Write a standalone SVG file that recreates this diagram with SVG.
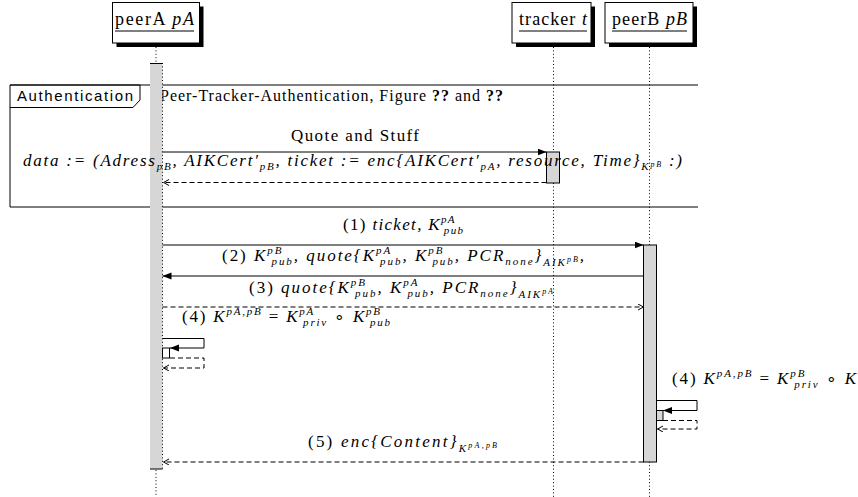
<svg xmlns="http://www.w3.org/2000/svg" width="858" height="497" viewBox="0 0 858 497">
<style>
.box{fill:#fff;stroke:#000;stroke-width:1}
.shadow{fill:#000}
.life{stroke:#000;stroke-width:1;stroke-dasharray:1 2.4;fill:none}
.act{fill:#d6d6d6;stroke:#000;stroke-width:1}
.solid{stroke:#000;stroke-width:1;fill:none}
.dash{stroke:#000;stroke-width:1;fill:none;stroke-dasharray:5 3}
.t{font-family:"Liberation Serif",serif;font-size:18px;fill:#000}
.m{font-family:"Liberation Serif",serif;font-style:italic;font-size:17px;fill:#000}
.u{font-style:normal}
.s{font-size:11px}
.ss{font-size:8px}
.sans{font-family:"Liberation Sans",sans-serif;font-size:15px;fill:#000}
</style>
<defs>
<marker id="af" markerUnits="userSpaceOnUse" markerWidth="10" markerHeight="8" refX="9" refY="3.5" orient="auto"><path d="M0,0 L9,3.5 L0,7 z" fill="#000"/></marker>
<marker id="ao" markerUnits="userSpaceOnUse" markerWidth="7" markerHeight="8" refX="5.5" refY="3" orient="auto"><path d="M0,0 L5.5,3 L0,6" fill="none" stroke="#000" stroke-width="1"/></marker>
</defs>

<g id="frame-auth">
<path class="solid" d="M698,85 H10 V207 H698"/>
<path class="solid" d="M10,85 H140 V100 L133,107.5 H10"/>
<text class="sans" x="17" y="101" textLength="116" lengthAdjust="spacing">Authentication</text>
<text class="t" x="160" y="101" style="font-size:16px" textLength="343" lengthAdjust="spacing">Peer-Tracker-Authentication, Figure <tspan font-weight="bold">??</tspan> and <tspan font-weight="bold">??</tspan></text>
</g>

<g id="node-peerA">
<line class="life" x1="156" y1="47" x2="156" y2="63"/>
<line class="life" x1="156" y1="470" x2="156" y2="497"/>
<rect class="shadow" x="116.5" y="6.5" width="87" height="40.5"/>
<rect class="box" x="112.5" y="2.5" width="87" height="40.5"/>
<text class="t" x="115" y="25" textLength="79" lengthAdjust="spacing">peerA <tspan font-style="italic">pA</tspan></text>
<line class="solid" x1="115" y1="31" x2="194" y2="31"/>
<rect x="150" y="63" width="12.5" height="406" fill="#d6d6d6"/>
<line class="solid" x1="150" y1="63.5" x2="162.5" y2="63.5"/>
<line class="solid" x1="150" y1="469" x2="162.5" y2="469"/>
<line class="life" x1="162.5" y1="63" x2="162.5" y2="469"/>
<rect x="162.5" y="348" width="7" height="10" fill="#fff" stroke="#000"/>
</g>

<g id="node-tracker">
<line class="life" x1="553.5" y1="47" x2="553.5" y2="497"/>
<rect class="shadow" x="516" y="6.5" width="79" height="40.5"/>
<rect class="box" x="512" y="2.5" width="79" height="40.5"/>
<text class="t" x="519" y="25" textLength="68" lengthAdjust="spacing">tracker <tspan font-style="italic">t</tspan></text>
<line class="solid" x1="519" y1="31" x2="587" y2="31"/>
<rect class="act" x="546.5" y="152" width="13" height="31"/>
</g>

<g id="node-peerB">
<line class="life" x1="649.5" y1="47" x2="649.5" y2="497"/>
<rect class="shadow" x="609" y="6.5" width="88" height="40.5"/>
<rect class="box" x="605" y="2.5" width="88" height="40.5"/>
<text class="t" x="612" y="25" textLength="75" lengthAdjust="spacing">peerB <tspan font-style="italic">pB</tspan></text>
<line class="solid" x1="612" y1="31" x2="687" y2="31"/>
<rect class="act" x="643.5" y="245" width="13" height="217"/>
<rect class="act" x="656.5" y="410.5" width="6.5" height="10"/>
</g>

<g id="connectors">
<line class="solid" x1="162.5" y1="152" x2="546.5" y2="152" marker-end="url(#af)"/>
<text class="t" x="291" y="141" style="font-size:17px" textLength="128" lengthAdjust="spacing">Quote and Stuff</text>
<line class="dash" x1="546.5" y1="182.5" x2="163.5" y2="182.5" marker-end="url(#ao)"/>
<text class="m" x="23" y="166" textLength="659" lengthAdjust="spacing">data := (Adress<tspan class="s" dy="4">pB</tspan><tspan dy="-4">, AIKCert′</tspan><tspan class="s" dy="4">pB</tspan><tspan dy="-4">, ticket := enc{AIKCert′</tspan><tspan class="s" dy="4">pA</tspan><tspan dy="-4">, resource, Time}</tspan><tspan class="s" dy="4">K</tspan><tspan class="ss" dy="-3">pB</tspan><tspan dy="-1"> :)</tspan></text>

<line class="solid" x1="162.5" y1="245" x2="643.5" y2="245" marker-end="url(#af)"/>
<text class="m" x="343" y="230" textLength="120" lengthAdjust="spacing"><tspan class="u">(1) </tspan>ticket, K<tspan class="s" dy="-7">pA</tspan><tspan class="s" dx="-12" dy="11">pub</tspan></text>

<line class="solid" x1="643.5" y1="276" x2="162.5" y2="276" marker-end="url(#af)"/>
<text class="m" x="222" y="261" textLength="362" lengthAdjust="spacing"><tspan class="u">(2) </tspan>K<tspan class="s" dy="-7">pB</tspan><tspan class="s" dx="-12" dy="11">pub</tspan><tspan dy="-4">, quote{K</tspan><tspan class="s" dy="-7">pA</tspan><tspan class="s" dx="-12" dy="11">pub</tspan><tspan dy="-4">, K</tspan><tspan class="s" dy="-7">pB</tspan><tspan class="s" dx="-12" dy="11">pub</tspan><tspan dy="-4">, PCR</tspan><tspan class="s" dy="4">none</tspan><tspan dy="-4">}</tspan><tspan class="s" dy="5">AIK</tspan><tspan class="ss" dy="-4">pB</tspan><tspan dy="-1">,</tspan></text>

<line class="dash" x1="162.5" y1="307" x2="643.5" y2="307" marker-end="url(#ao)"/>
<text class="m" x="249" y="293" textLength="304" lengthAdjust="spacing"><tspan class="u">(3) </tspan>quote{K<tspan class="s" dy="-7">pB</tspan><tspan class="s" dx="-12" dy="11">pub</tspan><tspan dy="-4">, K</tspan><tspan class="s" dy="-7">pA</tspan><tspan class="s" dx="-12" dy="11">pub</tspan><tspan dy="-4">, PCR</tspan><tspan class="s" dy="4">none</tspan><tspan dy="-4">}</tspan><tspan class="s" dy="5">AIK</tspan><tspan class="ss" dy="-4">pA</tspan></text>

<text class="m" x="182" y="322" textLength="208" lengthAdjust="spacing"><tspan class="u">(4) </tspan>K<tspan class="s" dy="-7">pA,pB</tspan><tspan class="u" dy="7"> = </tspan>K<tspan class="s" dy="-7">pA</tspan><tspan class="s" dx="-12" dy="11">priv</tspan><tspan class="u" dy="-4"> ∘ </tspan>K<tspan class="s" dy="-7">pB</tspan><tspan class="s" dx="-12" dy="11">pub</tspan></text>
<path class="solid" d="M162.5,338.5 H204 V348 H170" marker-end="url(#af)"/>
<path class="dash" d="M170,358 H204 V368 H163.5" marker-end="url(#ao)"/>

<text class="m" x="672" y="384" textLength="184" lengthAdjust="spacing"><tspan class="u">(4) </tspan>K<tspan class="s" dy="-7">pA,pB</tspan><tspan class="u" dy="7"> = </tspan>K<tspan class="s" dy="-7">pB</tspan><tspan class="s" dx="-12" dy="11">priv</tspan><tspan class="u" dy="-4"> ∘ </tspan>K</text>
<path class="solid" d="M656.5,400.5 H697 V410.5 H663" marker-end="url(#af)"/>
<path class="dash" d="M663,420.5 H697 V429 H657.5" marker-end="url(#ao)"/>

<line class="dash" x1="643.5" y1="462" x2="163.5" y2="462" marker-end="url(#ao)"/>
<text class="m" x="308" y="447" textLength="189" lengthAdjust="spacing"><tspan class="u">(5) </tspan>enc{Content}<tspan class="s" dy="5">K</tspan><tspan class="ss" dy="-4">pA,pB</tspan></text>
</g>
</svg>
